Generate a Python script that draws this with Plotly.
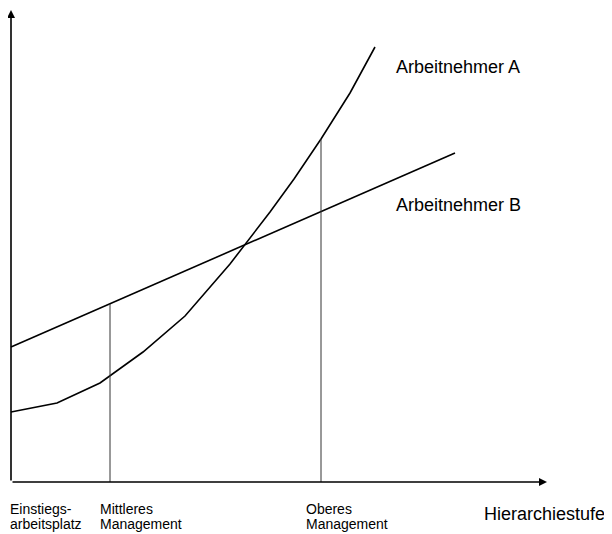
import plotly.graph_objects as go

# Arbeitnehmer A: convex curve
a_x = [0, 46, 89, 132, 174, 219, 259, 283, 310, 339, 364]
a_y = [70, 79, 99, 130, 166, 218, 270, 303, 343, 389, 435]

# Arbeitnehmer B: straight line
b_x = [0, 444]
b_y = [135, 329]

# hierarchy levels on the x axis (two text lines each)
level_left = [-3, 87, 293]
level_line1 = ['Einstiegs-', 'Mittleres', 'Oberes']
level_line2 = ['arbeitsplatz', 'Management', 'Management']

# verticals dropped from the curves at the two upper levels
drop_x = [99, 310]
drop_top = [178, 343]

FONT = 'Liberation Sans, Arial, sans-serif'

fig = go.Figure()

fig.add_trace(go.Scatter(x=a_x, y=a_y, mode='lines',
                         line=dict(color='black', width=1.6), hoverinfo='skip'))
fig.add_trace(go.Scatter(x=b_x, y=b_y, mode='lines',
                         line=dict(color='black', width=1.6), hoverinfo='skip'))

for dx, top in zip(drop_x, drop_top):
    fig.add_trace(go.Scatter(x=[dx, dx], y=[0, top], mode='lines',
                             line=dict(color='#333333', width=1), hoverinfo='skip'))

# axes with arrow heads
fig.add_annotation(x=536, y=0, ax=0, ay=0, xref='x', yref='y', axref='x', ayref='y',
                   showarrow=True, arrowhead=2, arrowsize=1, arrowwidth=1.6,
                   arrowcolor='black', text='')
fig.add_annotation(x=0, y=472, ax=0, ay=0, xref='x', yref='y', axref='x', ayref='y',
                   showarrow=True, arrowhead=2, arrowsize=1, arrowwidth=1.6,
                   arrowcolor='black', text='')

fig.add_annotation(x=383, y=415, text='Arbeitnehmer A', showarrow=False,
                   xanchor='left', yanchor='middle',
                   font=dict(family=FONT, size=18, color='black'))
fig.add_annotation(x=383, y=277, text='Arbeitnehmer B', showarrow=False,
                   xanchor='left', yanchor='middle',
                   font=dict(family=FONT, size=18, color='black'))

for lx, t1, t2 in zip(level_left, level_line1, level_line2):
    fig.add_annotation(x=lx, y=-27, text=t1, showarrow=False,
                       xanchor='left', yanchor='middle',
                       font=dict(family=FONT, size=14, color='black'))
    fig.add_annotation(x=lx, y=-42, text=t2, showarrow=False,
                       xanchor='left', yanchor='middle',
                       font=dict(family=FONT, size=14, color='black'))

fig.add_annotation(x=471, y=-32, text='Hierarchiestufe', showarrow=False,
                   xanchor='left', yanchor='middle',
                   font=dict(family=FONT, size=18, color='black'))

# the page body has an 8px margin, so the figure is a bit smaller than the window
fig.update_layout(
    width=604, height=526,
    margin=dict(l=0, r=0, t=0, b=0),
    paper_bgcolor='white', plot_bgcolor='white',
    showlegend=False,
    xaxis=dict(range=[-3, 601], visible=False, fixedrange=True),
    yaxis=dict(range=[-52, 474], visible=False, fixedrange=True),
)

fig.write_html("out.html")
